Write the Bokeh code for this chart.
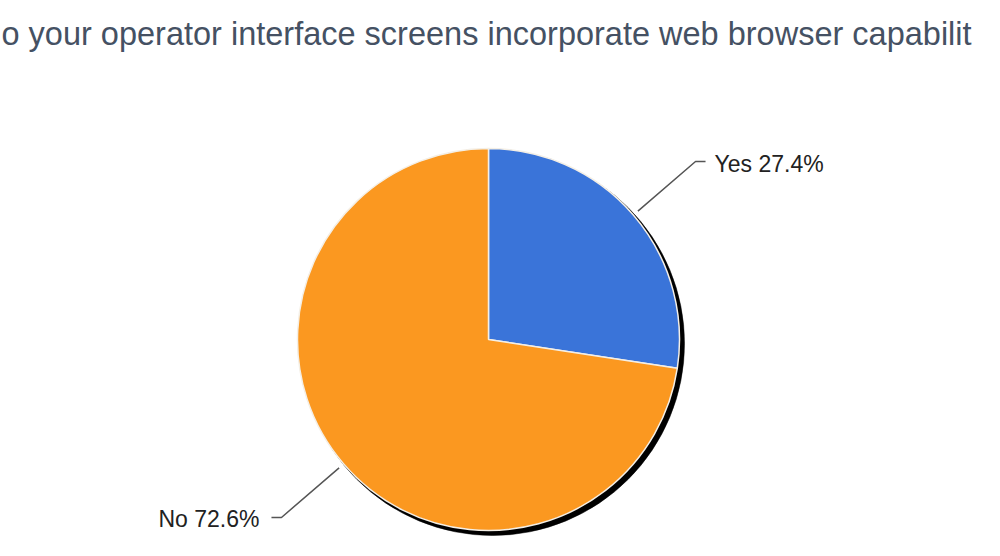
import math
from bokeh.plotting import figure
from bokeh.models import Range1d
from bokeh.core.properties import value
from bokeh.embed import file_html
from bokeh.resources import INLINE

# ---- data ----
title = "o your operator interface screens incorporate web browser capabilit"
categories = ["Yes", "No"]
percents = [27.4, 72.6]
colors = ["#3a74d9", "#fb9820"]

W, H = 984, 540
p = figure(width=W, height=H, x_range=Range1d(0, W), y_range=Range1d(0, H),
           output_backend="svg", toolbar_location=None, min_border=0)
p.axis.visible = False
p.grid.visible = False
p.outline_line_color = None
p.background_fill_color = "white"
p.border_fill_color = "white"

# reference-pixel -> data coords
def sx(x):
    return x
def sy(y):
    return H - y

cx, cy, r = sx(488), sy(339), 191

# shadow
p.circle(x=[cx + 4], y=[cy - 4], radius=r + 1, fill_color="black",
         line_color="black", line_alpha=0.5, line_width=1)

total = sum(percents)
cum = 0.0
font = value("Liberation Sans")
for cat, v, col in zip(categories, percents, colors):
    a2 = 90 - 360 * cum / total
    a1 = 90 - 360 * (cum + v) / total
    cum += v
    p.wedge(x=[cx], y=[cy], radius=r, start_angle=[a1], end_angle=[a2],
            start_angle_units="deg", end_angle_units="deg",
            fill_color=col, line_color="#f4efe6", line_width=1.5)
    mid = math.radians((a1 + a2) / 2)
    ux, uy = math.cos(mid), math.sin(mid)
    x0, y0 = cx + (r + 6) * ux, cy + (r + 6) * uy
    x1, y1 = cx + (r + 82) * ux, cy + (r + 82) * uy
    side = 1 if ux >= 0 else -1
    x2 = x1 + 10 * side
    p.line(x=[x0, x1, x2], y=[y0, y1, y1], line_color="#555555", line_width=1.5)
    p.text(x=[x2 + (9 if side > 0 else 12) * side], y=[y1 - 2], text=[f"{cat} {v}%"],
           text_font=font, text_font_size="23px", text_color="#222222",
           text_align="left" if side > 0 else "right", text_baseline="middle")

# title (the part that the reference shows)
p.text(x=[sx(1)], y=[sy(33)], text=[title], text_font=font,
       text_font_size="32.5px", text_color="#455163",
       text_align="left", text_baseline="alphabetic")

open("out.html", "w").write(file_html(p, INLINE))
